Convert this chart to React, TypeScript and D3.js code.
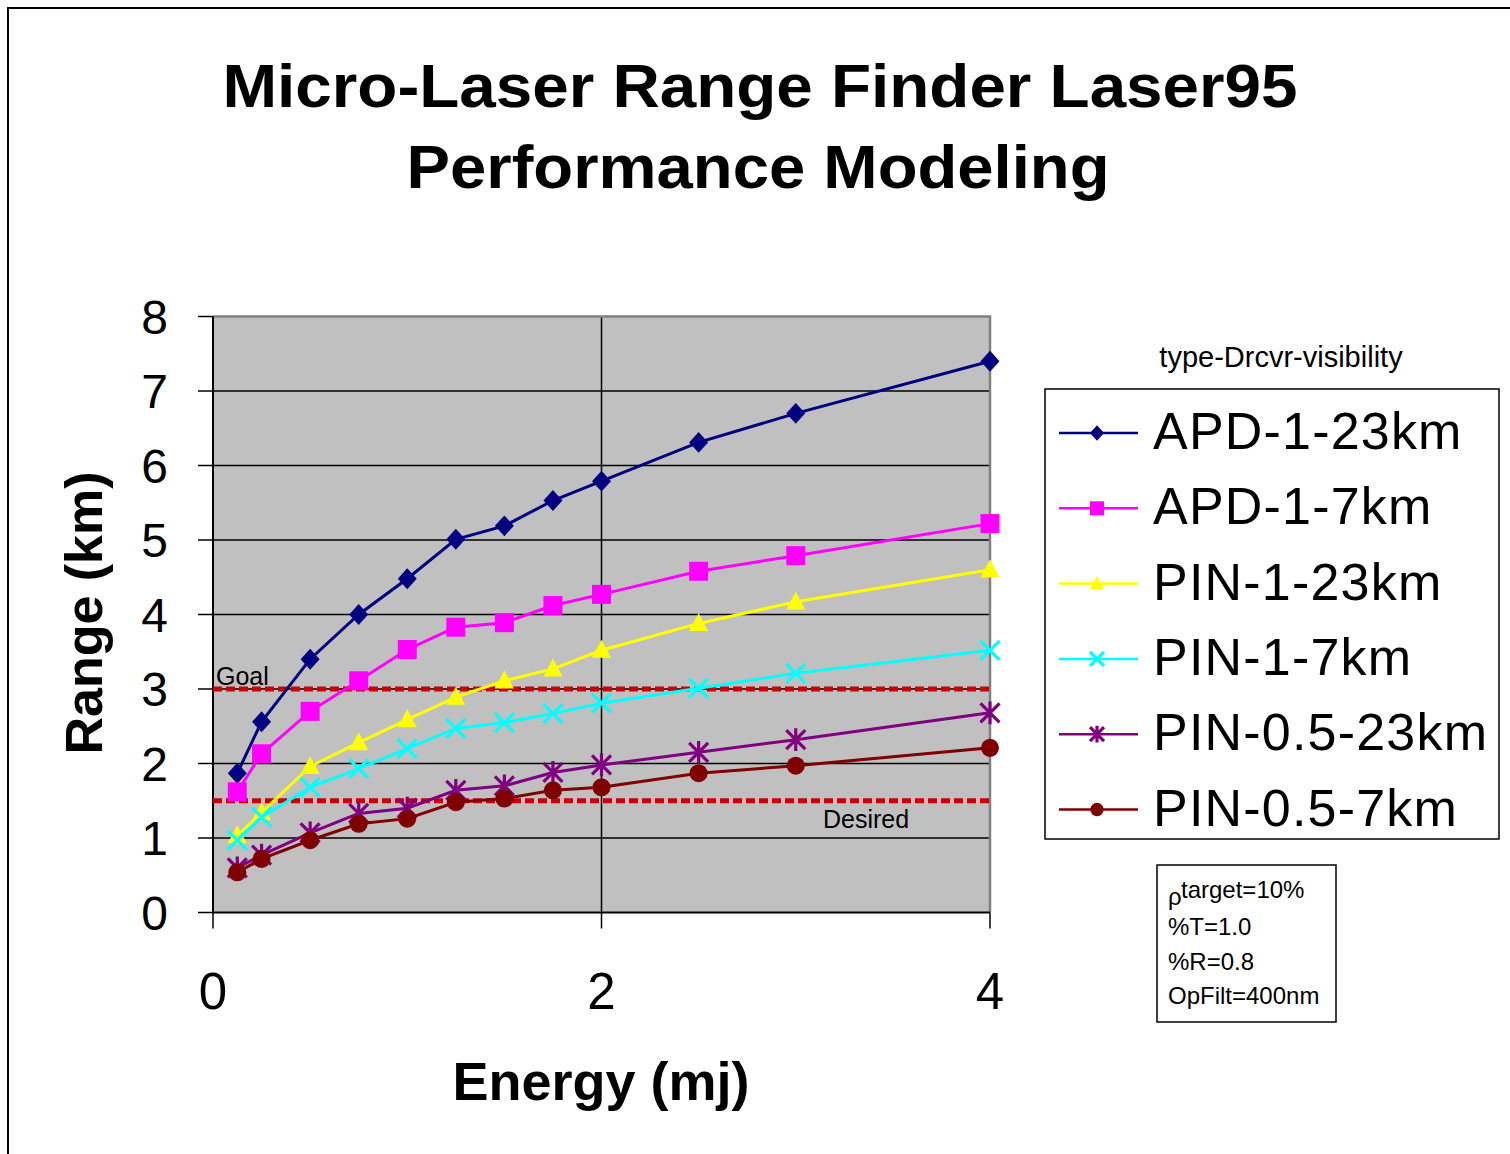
import * as d3 from "d3";

// energy (mJ) sampled for every curve
const energy = [0.125, 0.25, 0.5, 0.75, 1, 1.25, 1.5, 1.75, 2, 2.5, 3, 4];

// range (km) per detector / visibility case
const apd1_23 = [1.87, 2.56, 3.4, 4.0, 4.48, 5.01, 5.19, 5.53, 5.79, 6.31, 6.7, 7.4];
const apd1_7 = [1.62, 2.13, 2.7, 3.11, 3.53, 3.83, 3.89, 4.12, 4.27, 4.58, 4.79, 5.22];
const pin1_23 = [1.03, 1.34, 1.96, 2.28, 2.59, 2.89, 3.11, 3.27, 3.52, 3.88, 4.17, 4.6];
const pin1_7 = [0.97, 1.28, 1.68, 1.93, 2.2, 2.47, 2.55, 2.67, 2.81, 3.01, 3.21, 3.52];
const pin05_23 = [0.6, 0.77, 1.07, 1.33, 1.4, 1.64, 1.7, 1.88, 1.98, 2.15, 2.32, 2.68];
const pin05_7 = [0.54, 0.72, 0.97, 1.19, 1.26, 1.48, 1.53, 1.64, 1.68, 1.87, 1.97, 2.21];

const seriesNames = ["APD-1-23km", "APD-1-7km", "PIN-1-23km", "PIN-1-7km", "PIN-0.5-23km", "PIN-0.5-7km"];
const seriesValues = [apd1_23, apd1_7, pin1_23, pin1_7, pin05_23, pin05_7];
const seriesColors = ["#000080", "#FF00FF", "#FFFF00", "#00FFFF", "#800080", "#800000"];
const seriesMarkers = ["diamond", "square", "triangle", "cross", "star", "circle"];

const xTicks = [0, 2, 4];
const yTicks = [0, 1, 2, 3, 4, 5, 6, 7, 8];
const goalValue = 3;
const desiredValue = 1.5;

const paramLines = ["%T=1.0", "%R=0.8", "OpFilt=400nm"];

const FONT = "'Liberation Sans', Arial, sans-serif";

function Marker({ kind, x, y, color, s }: { kind: string; x: number; y: number; color: string; s: number }) {
  const h = s / 2;
  if (kind === "diamond") {
    return <path d={`M${x},${y - h * 1.1}L${x + h},${y}L${x},${y + h * 1.1}L${x - h},${y}Z`} fill={color} />;
  }
  if (kind === "square") {
    return <rect x={x - h} y={y - h} width={s} height={s} fill={color} />;
  }
  if (kind === "triangle") {
    return <path d={`M${x},${y - h * 1.1}L${x + h},${y + h * 0.8}L${x - h},${y + h * 0.8}Z`} fill={color} />;
  }
  if (kind === "circle") {
    return <circle cx={x} cy={y} r={h * 0.95} fill={color} />;
  }
  if (kind === "cross") {
    return (
      <path
        d={`M${x - h},${y - h}L${x + h},${y + h}M${x - h},${y + h}L${x + h},${y - h}`}
        stroke={color}
        strokeWidth={3.2}
      />
    );
  }
  // star: x plus vertical bar
  return (
    <path
      d={`M${x - h},${y - h}L${x + h},${y + h}M${x - h},${y + h}L${x + h},${y - h}M${x},${y - h * 1.2}L${x},${y + h * 1.2}`}
      stroke={color}
      strokeWidth={3.2}
    />
  );
}

export default function App() {
  const W = 1510;
  const H = 1154;
  const left = 213;
  const right = 990;
  const top = 316.5;
  const bottom = 912.5;

  const x = d3.scaleLinear().domain([0, 4]).range([left, right]);
  const y = d3.scaleLinear().domain([0, 8]).range([bottom, top]);

  const line = d3
    .line<number>()
    .x((_, i) => x(energy[i]))
    .y((d) => y(d));

  const legendX = 1045;
  const legendY = 389;
  const legendRowY = (i: number) => 433 + i * 75.3;

  return (
    <svg
      width={W}
      height={H}
      style={{ position: "absolute", left: 0, top: 0, background: "#fff" }}
      fontFamily={FONT}
    >
      {/* outer frame */}
      <rect x={8} y={8} width={W + 20} height={H + 20} fill="#fff" stroke="#000" strokeWidth={2} />

      {/* title */}
      <text x={760} y={107} textAnchor="middle" fontSize={62} fontWeight="bold" textLength={1075} lengthAdjust="spacingAndGlyphs">
        Micro-Laser Range Finder Laser95
      </text>
      <text x={758} y={188} textAnchor="middle" fontSize={62} fontWeight="bold" textLength={703} lengthAdjust="spacingAndGlyphs">
        Performance Modeling
      </text>

      {/* plot area */}
      <rect x={left} y={top} width={right - left} height={bottom - top} fill="#C0C0C0" />
      {yTicks.slice(1, -1).map((t) => (
        <line key={t} x1={left} x2={right} y1={y(t)} y2={y(t)} stroke="#000" strokeWidth={1.5} />
      ))}
      <line x1={x(2)} x2={x(2)} y1={top} y2={bottom} stroke="#000" strokeWidth={1.5} />
      <path d={`M${left},${top}H${right}V${bottom}`} fill="none" stroke="#808080" strokeWidth={2.5} />

      {/* axes */}
      <line x1={left} x2={left} y1={top} y2={bottom} stroke="#000" strokeWidth={2} />
      <line x1={left} x2={right} y1={bottom} y2={bottom} stroke="#000" strokeWidth={2} />
      {yTicks.map((t) => (
        <g key={t}>
          <line x1={left - 15} x2={left} y1={y(t)} y2={y(t)} stroke="#000" strokeWidth={1.5} />
          <text x={168} y={y(t) + 17} textAnchor="end" fontSize={48}>
            {t}
          </text>
        </g>
      ))}
      {xTicks.map((t) => (
        <g key={t}>
          <line x1={x(t)} x2={x(t)} y1={bottom} y2={bottom + 16} stroke="#000" strokeWidth={1.5} />
          <text x={x(t)} y={1009} textAnchor="middle" fontSize={51}>
            {t}
          </text>
        </g>
      ))}

      <text x={601} y={1100} textAnchor="middle" fontSize={54} fontWeight="bold">
        Energy (mj)
      </text>
      <text transform="translate(102,613) rotate(-90)" textAnchor="middle" fontSize={52} fontWeight="bold">
        Range (km)
      </text>

      {/* goal / desired lines */}
      <line x1={left} x2={right} y1={y(goalValue)} y2={y(goalValue)} stroke="#CC0000" strokeWidth={5} strokeDasharray="9 4" />
      <line x1={left} x2={right} y1={y(desiredValue)} y2={y(desiredValue)} stroke="#CC0000" strokeWidth={5} strokeDasharray="9 4" />
      <text x={216} y={685} fontSize={25}>
        Goal
      </text>
      <text x={823} y={828} fontSize={25}>
        Desired
      </text>

      {/* series */}
      {seriesValues.map((vals, si) => (
        <g key={seriesNames[si]}>
          <path d={line(vals) ?? undefined} fill="none" stroke={seriesColors[si]} strokeWidth={3} />
          {vals.map((v, i) => (
            <Marker key={i} kind={seriesMarkers[si]} x={x(energy[i])} y={y(v)} color={seriesColors[si]} s={19} />
          ))}
        </g>
      ))}

      {/* legend */}
      <text x={1281} y={367} textAnchor="middle" fontSize={29}>
        type-Drcvr-visibility
      </text>
      <rect x={legendX} y={legendY} width={454} height={450} fill="#fff" stroke="#000" strokeWidth={1.5} />
      {seriesNames.map((name, i) => (
        <g key={name}>
          <line x1={1059} x2={1138} y1={legendRowY(i)} y2={legendRowY(i)} stroke={seriesColors[i]} strokeWidth={2.5} />
          <Marker kind={seriesMarkers[i]} x={1097} y={legendRowY(i)} color={seriesColors[i]} s={14} />
          <text x={1153} y={legendRowY(i) + 16} fontSize={52} letterSpacing={1.2}>
            {name}
          </text>
        </g>
      ))}

      {/* parameters box */}
      <rect x={1157} y={865} width={179} height={157} fill="#fff" stroke="#000" strokeWidth={1.5} />
      <text x={1168} y={905} fontSize={24}>
        ρ
      </text>
      <text x={1181} y={898} fontSize={24}>
        target=10%
      </text>
      {paramLines.map((t, i) => (
        <text key={t} x={1168} y={935 + i * 34.5} fontSize={24}>
          {t}
        </text>
      ))}
    </svg>
  );
}
